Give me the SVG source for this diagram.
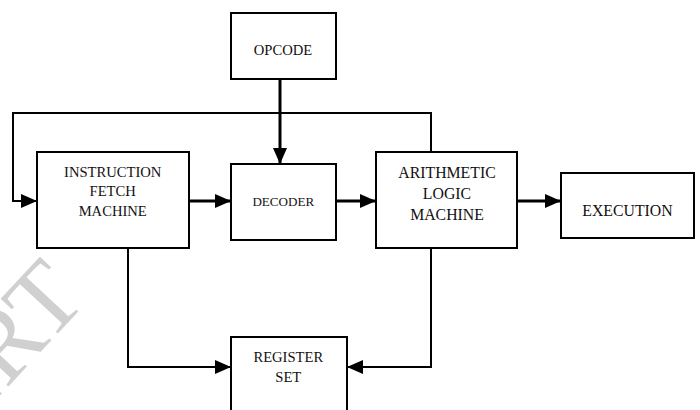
<svg xmlns="http://www.w3.org/2000/svg" width="700" height="410" viewBox="0 0 700 410">
<style>
.box{fill:#fff;stroke:#000;stroke-width:2}
.t{font-family:"Liberation Serif","Times New Roman",serif;fill:#111;text-anchor:middle}
.c{fill:none;stroke:#000;stroke-linejoin:miter}
.thick{stroke-width:3}
.thin{stroke-width:2}
.wm{font-family:"Liberation Serif","Times New Roman",serif;fill:#d0d0d0;font-size:100px;text-anchor:end}
</style>
<defs>
<marker id="ah" markerUnits="userSpaceOnUse" markerWidth="16" markerHeight="14" refX="16" refY="7" orient="auto">
<path d="M0,0 L16,7 L0,14 z" fill="#000"/>
</marker>
</defs>
<rect width="700" height="410" fill="#fff"/>
<text class="wm" transform="translate(89,300) rotate(-47)" x="0" y="0">IJERT</text>
<g id="connectors">
<path class="c thick" d="M280,79 V164" marker-end="url(#ah)"/>
<path class="c thin" d="M431,152 V113 H13 V201 H37" marker-end="url(#ah)"/>
<path class="c thick" d="M189,201 H231" marker-end="url(#ah)"/>
<path class="c thick" d="M336,201 H376" marker-end="url(#ah)"/>
<path class="c thick" d="M517,201 H561" marker-end="url(#ah)"/>
<path class="c thin" d="M128,248 V367 H231" marker-end="url(#ah)"/>
<path class="c thin" d="M431,248 V367 H347" marker-end="url(#ah)"/>
</g>
<g id="opcode">
<rect class="box" x="231" y="13" width="105" height="66"/>
<text class="t" x="283" y="54.5" font-size="14.6">OPCODE</text>
</g>
<g id="ifm">
<rect class="box" x="37" y="152" width="152" height="96"/>
<text class="t" x="112.7" y="176.5" font-size="14.6">INSTRUCTION</text>
<text class="t" x="112.7" y="196" font-size="14.6">FETCH</text>
<text class="t" x="112.7" y="215.5" font-size="14.6">MACHINE</text>
</g>
<g id="decoder">
<rect class="box" x="231" y="164" width="105" height="76"/>
<text class="t" x="283.3" y="205.5" font-size="13.1">DECODER</text>
</g>
<g id="alu">
<rect class="box" x="376" y="152" width="141" height="96"/>
<text class="t" x="447" y="177.5" font-size="15.8">ARITHMETIC</text>
<text class="t" x="447" y="199" font-size="15.8">LOGIC</text>
<text class="t" x="447" y="220" font-size="15.8">MACHINE</text>
</g>
<g id="execution">
<rect class="box" x="561" y="173" width="133" height="65"/>
<text class="t" x="627.5" y="215.5" font-size="15.8">EXECUTION</text>
</g>
<g id="register">
<rect class="box" x="231" y="337" width="116" height="80"/>
<text class="t" x="288.3" y="361.5" font-size="14.6">REGISTER</text>
<text class="t" x="288.3" y="382" font-size="14.6">SET</text>
</g>
</svg>
